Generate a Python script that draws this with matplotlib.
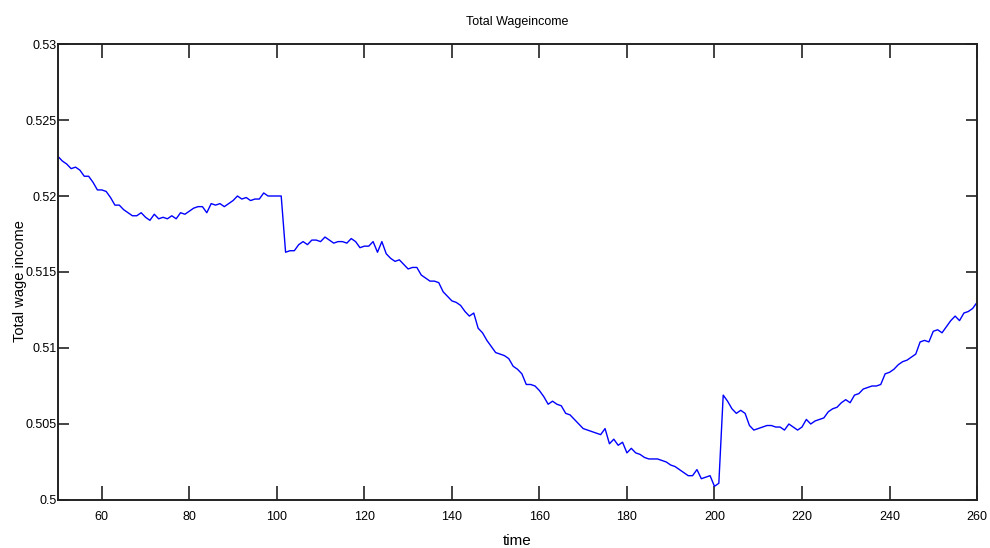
import numpy as np
import matplotlib
matplotlib.use('Agg')
import matplotlib.pyplot as plt

plt.rcParams['font.family'] = ['Liberation Sans', 'DejaVu Sans']

# time steps shown in the chart
time = np.arange(50, 261)

# total wage income, one value per time step
wage = [
    0.5226, 0.5223, 0.5221, 0.5218, 0.5219, 0.5217, 0.5213, 0.5213, 0.5209, 0.5204,
    0.5204, 0.5203, 0.5199, 0.5194, 0.5194, 0.5191, 0.5189, 0.5187, 0.5187, 0.5189,
    0.5186, 0.5184, 0.5188, 0.5185, 0.5186, 0.5185, 0.5187, 0.5185, 0.5189, 0.5188,
    0.5190, 0.5192, 0.5193, 0.5193, 0.5189, 0.5195, 0.5194, 0.5195, 0.5193, 0.5195,
    0.5197, 0.5200, 0.5198, 0.5199, 0.5197, 0.5198, 0.5198, 0.5202, 0.5200, 0.5200,
    0.5200, 0.5200, 0.5163, 0.5164, 0.5164, 0.5168, 0.5170, 0.5168, 0.5171, 0.5171,
    0.5170, 0.5173, 0.5171, 0.5169, 0.5170, 0.5170, 0.5169, 0.5172, 0.5170, 0.5166,
    0.5167, 0.5167, 0.5170, 0.5163, 0.5170, 0.5162, 0.5159, 0.5157, 0.5158, 0.5155,
    0.5152, 0.5153, 0.5153, 0.5148, 0.5146, 0.5144, 0.5144, 0.5143, 0.5137, 0.5134,
    0.5131, 0.5130, 0.5128, 0.5124, 0.5121, 0.5123, 0.5113, 0.5110, 0.5105, 0.5101,
    0.5097, 0.5096, 0.5095, 0.5093, 0.5088, 0.5086, 0.5083, 0.5076, 0.5076, 0.5075,
    0.5072, 0.5068, 0.5063, 0.5065, 0.5063, 0.5062, 0.5057, 0.5056, 0.5053, 0.5050,
    0.5047, 0.5046, 0.5045, 0.5044, 0.5043, 0.5047, 0.5037, 0.5040, 0.5036, 0.5038,
    0.5031, 0.5034, 0.5031, 0.5030, 0.5028, 0.5027, 0.5027, 0.5027, 0.5026, 0.5025,
    0.5023, 0.5022, 0.5020, 0.5018, 0.5016, 0.5016, 0.5020, 0.5014, 0.5015, 0.5016,
    0.5009, 0.5011, 0.5069, 0.5065, 0.5060, 0.5057, 0.5059, 0.5057, 0.5049, 0.5046,
    0.5047, 0.5048, 0.5049, 0.5049, 0.5048, 0.5048, 0.5046, 0.5050, 0.5048, 0.5046,
    0.5048, 0.5053, 0.5050, 0.5052, 0.5053, 0.5054, 0.5058, 0.5060, 0.5061, 0.5064,
    0.5066, 0.5064, 0.5069, 0.5070, 0.5073, 0.5074, 0.5075, 0.5075, 0.5076, 0.5083,
    0.5084, 0.5086, 0.5089, 0.5091, 0.5092, 0.5094, 0.5096, 0.5104, 0.5105, 0.5104,
    0.5111, 0.5112, 0.5110, 0.5114, 0.5118, 0.5121, 0.5118, 0.5123, 0.5124, 0.5126,
    0.5130,
]

xticks = [60, 80, 100, 120, 140, 160, 180, 200, 220, 240, 260]
yticks = [0.5, 0.505, 0.51, 0.515, 0.52, 0.525, 0.53]
ytick_labels = ['0.5', '0.505', '0.51', '0.515', '0.52', '0.525', '0.53']

fig = plt.figure(figsize=(9.9, 5.48), dpi=100)
ax = fig.add_axes([0.0586, 0.0876, 0.9283, 0.8321])

ax.plot(time, wage, color='#0000ff', linewidth=1.0)

ax.set_xlim(50, 260)
ax.set_ylim(0.5, 0.53)
ax.set_xticks(xticks)
ax.set_yticks(yticks)
ax.set_yticklabels(ytick_labels)

ax.tick_params(axis='both', direction='in', top=True, right=True,
               labelsize=9, width=1.2, color='#222222')
ax.tick_params(axis='x', length=10, pad=8)
ax.tick_params(axis='y', length=8, pad=1)
for s in ax.spines.values():
    s.set_linewidth(1.4)
    s.set_color('#222222')

ax.set_title('Total Wageincome', fontsize=9, pad=14)
ax.set_xlabel('time', fontsize=11, labelpad=8)
ax.set_ylabel('Total wage income', fontsize=10.5)
ax.yaxis.set_label_coords(-0.034, 0.48)

fig.savefig('out.png', dpi=100)
